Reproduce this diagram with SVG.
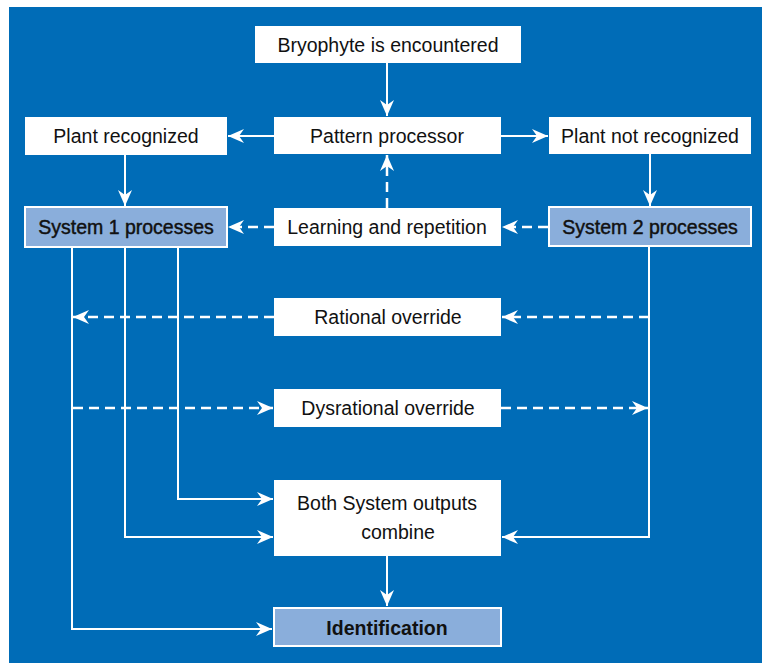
<svg xmlns="http://www.w3.org/2000/svg" width="762" height="663" viewBox="0 0 762 663">
<style>
.bx{fill:#ffffff}
.sb{fill:#8aaedb;stroke:#ffffff;stroke-width:2}
.t{font-family:"Liberation Sans",Arial,sans-serif;font-size:19.5px;fill:#111111;text-anchor:middle}
.m{stroke:#111111;stroke-width:0.45}
.b{font-weight:bold}
.ln{fill:none;stroke:#ffffff;stroke-width:2}
.ds{fill:none;stroke:#ffffff;stroke-width:2.5;stroke-dasharray:10 6}
</style>
<defs>
<marker id="ah" markerUnits="userSpaceOnUse" markerWidth="20" markerHeight="16" viewBox="-17 -8 18 16" refX="0" refY="0" orient="auto">
<path d="M0,0 L-16,-7 L-11,0 L-16,7 Z" fill="#ffffff"/>
</marker>
</defs>
<rect x="9" y="7" width="753" height="656" fill="#006cb7"/>
<g id="connectors">
<line class="ln" x1="387" y1="63" x2="387" y2="116" marker-end="url(#ah)"/>
<line class="ln" x1="274" y1="136" x2="228" y2="136" marker-end="url(#ah)"/>
<line class="ln" x1="501" y1="136" x2="548" y2="136" marker-end="url(#ah)"/>
<line class="ln" x1="125" y1="155" x2="125" y2="206" marker-end="url(#ah)"/>
<line class="ln" x1="650" y1="154" x2="650" y2="206" marker-end="url(#ah)"/>
<line class="ds" x1="387" y1="208" x2="387" y2="155" marker-end="url(#ah)"/>
<line class="ds" x1="274" y1="227" x2="228" y2="227" marker-end="url(#ah)"/>
<line class="ds" x1="548" y1="227" x2="502" y2="227" marker-end="url(#ah)"/>
<line class="ds" x1="649" y1="317" x2="502" y2="317" marker-end="url(#ah)"/>
<line class="ds" x1="274" y1="317" x2="73" y2="317" marker-end="url(#ah)"/>
<line class="ds" x1="73" y1="408" x2="273" y2="408" marker-end="url(#ah)"/>
<line class="ds" x1="501" y1="408" x2="648" y2="408" marker-end="url(#ah)"/>
<polyline class="ln" points="178,248 178,499 273,499" marker-end="url(#ah)"/>
<polyline class="ln" points="125,248 125,537 273,537" marker-end="url(#ah)"/>
<polyline class="ln" points="72,248 72,629 272,629" marker-end="url(#ah)"/>
<polyline class="ln" points="649,247 649,537 502,537" marker-end="url(#ah)"/>
<line class="ln" x1="387" y1="556" x2="387" y2="606" marker-end="url(#ah)"/>
</g>
<g id="bryophyte"><rect class="bx" x="255" y="26" width="266" height="37"/><text class="t" x="388" y="51.5">Bryophyte is encountered</text></g>
<g id="plant-recognized"><rect class="bx" x="25" y="117" width="202" height="38"/><text class="t" x="126" y="143">Plant recognized</text></g>
<g id="pattern-processor"><rect class="bx" x="274" y="117" width="227" height="37"/><text class="t" x="387" y="142.5">Pattern processor</text></g>
<g id="plant-not-recognized"><rect class="bx" x="549" y="117" width="202" height="37"/><text class="t" x="650" y="142.5">Plant not recognized</text></g>
<g id="system1"><rect class="sb" x="25" y="207" width="202" height="40"/><text class="t m" x="126" y="233.5">System 1 processes</text></g>
<g id="learning"><rect class="bx" x="274" y="208" width="227" height="38"/><text class="t" x="387" y="233.5">Learning and repetition</text></g>
<g id="system2"><rect class="sb" x="549" y="207" width="202" height="39"/><text class="t m" x="650" y="233.5">System 2 processes</text></g>
<g id="rational"><rect class="bx" x="274" y="298" width="227" height="38"/><text class="t" x="388" y="323.5">Rational override</text></g>
<g id="dysrational"><rect class="bx" x="274" y="389" width="227" height="38"/><text class="t" x="388" y="414.5">Dysrational override</text></g>
<g id="combine"><rect class="bx" x="274" y="480" width="227" height="76"/><text class="t" x="387" y="510">Both System outputs</text><text class="t" x="398" y="539">combine</text></g>
<g id="identification"><rect class="sb" x="274" y="608" width="227" height="38"/><text class="t b" x="387" y="634.5">Identification</text></g>
</svg>
